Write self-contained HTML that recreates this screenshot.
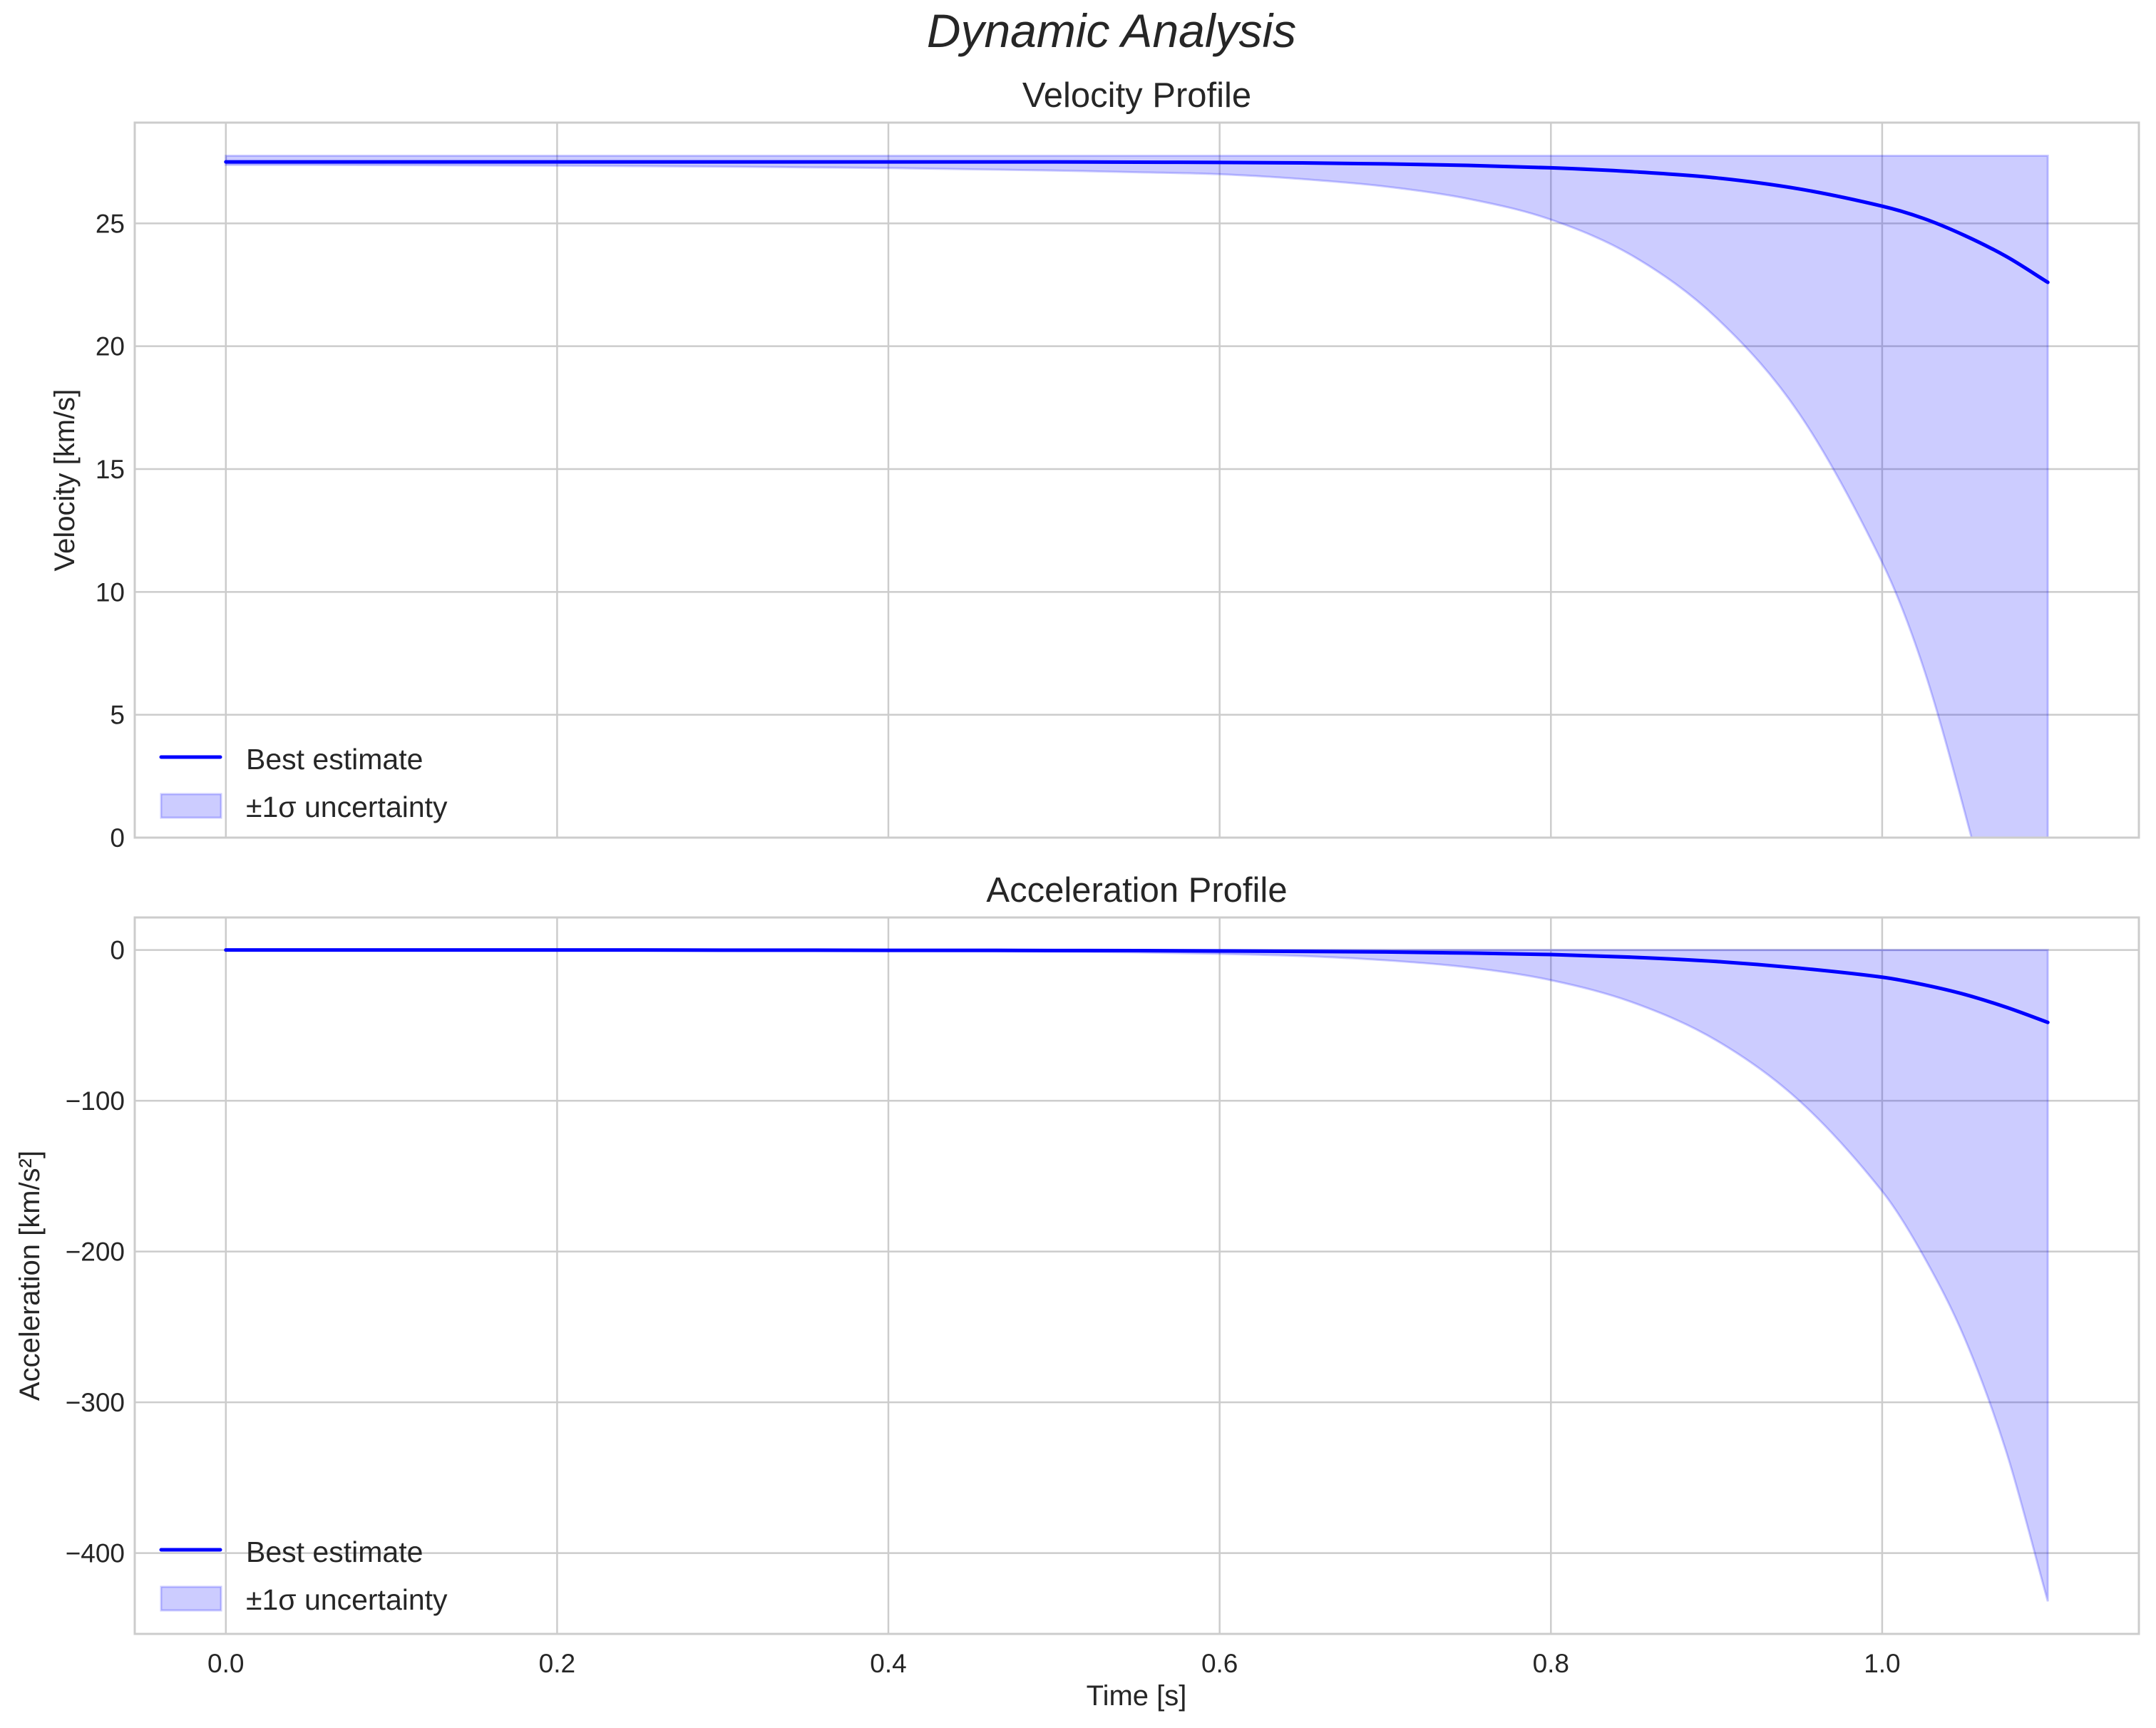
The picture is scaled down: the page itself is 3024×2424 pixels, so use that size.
<!DOCTYPE html>
<html><head><meta charset="utf-8"><style>
html,body{margin:0;padding:0;background:#fff}
svg{display:block;font-family:"Liberation Sans",sans-serif}
</style></head><body>
<svg id="chart" width="3024" height="2424" viewBox="0 0 3024 2424" xmlns="http://www.w3.org/2000/svg">
<text x="1559" y="66" font-size="66" font-style="italic" fill="#262626" text-anchor="middle">Dynamic Analysis</text>
<g id="g1"></g><g id="g2"></g>
</svg>
<script>
const times=[0,0.05,0.1,0.15,0.2,0.25,0.3,0.35,0.4,0.45,0.5,0.55,0.6,0.65,0.7,0.75,0.8,0.85,0.9,0.95,1.0,1.025,1.05,1.075,1.1];
const velMean=[27.5,27.5,27.5,27.5,27.5,27.5,27.5,27.5,27.5,27.5,27.5,27.49,27.48,27.46,27.42,27.36,27.26,27.1,26.85,26.4,25.7,25.2,24.5,23.65,22.6];
const velLower=[27.38,27.38,27.37,27.36,27.35,27.33,27.31,27.28,27.25,27.2,27.15,27.08,27.0,26.8,26.5,26.0,25.15,23.65,21.15,17.25,11.2,6.9,1.0,-5.75,-14.25];
const velUpper=[27.75,27.75,27.75,27.75,27.75,27.75,27.75,27.75,27.75,27.75,27.75,27.75,27.75,27.75,27.75,27.75,27.75,27.75,27.75,27.75,27.75,27.75,27.75,27.75,27.75];
const accMean=[0,0,0,0,0,0,-0.1,-0.1,-0.2,-0.2,-0.3,-0.4,-0.6,-0.9,-1.3,-2,-3,-4.8,-7.6,-12,-18,-23,-29.5,-38,-48];
const accLower=[0,-0.1,-0.1,-0.2,-0.2,-0.3,-0.4,-0.5,-0.6,-0.8,-1.1,-1.6,-2.5,-4,-6.8,-11.5,-20,-35,-60,-100,-160,-203,-258,-333,-432];
const accUpper=[0,0,0,0,0,0,0,0,0,0,0,0,0,0,0,0,0,0,0,0,0,0,0,0,0];
const xTicks=[0,0.2,0.4,0.6,0.8,1.0];
const xTickLabels=["0.0","0.2","0.4","0.6","0.8","1.0"];
const velTicks=[0,5,10,15,20,25];
const accTicks=[0,-100,-200,-300,-400];
const accTickLabels=["0","\u2212100","\u2212200","\u2212300","\u2212400"];

const NS="http://www.w3.org/2000/svg";
const L=189,R=3000;
const xmin=-0.055,xmax=1.155;
function X(v){return L+(v-xmin)/(xmax-xmin)*(R-L);}
function mk(p,tag,attrs){const e=document.createElementNS(NS,tag);for(const k in attrs)e.setAttribute(k,attrs[k]);p.appendChild(e);return e;}
// Hermite spline in x with finite-difference slopes (handles uneven spacing)
function smooth(pts){
  const n=pts.length,m=[];
  for(let i=0;i<n;i++){const a=pts[Math.max(0,i-1)],b=pts[Math.min(n-1,i+1)];m.push((b[1]-a[1])/(b[0]-a[0]));}
  let d='';
  for(let i=0;i<n-1;i++){const p1=pts[i],p2=pts[i+1],h=(p2[0]-p1[0])/3;
    d+='C'+(p1[0]+h)+','+(p1[1]+m[i]*h)+' '+(p2[0]-h)+','+(p2[1]-m[i+1]*h)+' '+p2[0]+','+p2[1];}
  return d;}

function panel(g,top,bot,ymin,ymax,mean,lo,hi,ticks,labels,title,ylabel,ylabX,legY,showX,clipId,pfx){
  const Y=v=>bot-(v-ymin)/(ymax-ymin)*(bot-top);
  xTicks.forEach((t,i)=>{const l=mk(g,'line',{x1:X(t),x2:X(t),y1:top,y2:bot,stroke:'#cccccc','stroke-width':2.5});
    
    
    if(showX){const tx=mk(g,'text',{x:X(t),y:2346,'font-size':37,fill:'#262626','text-anchor':'middle'});tx.textContent=xTickLabels[i];
    
    }
  });
  ticks.forEach((t,i)=>{const l=mk(g,'line',{x1:L,x2:R,y1:Y(t),y2:Y(t),stroke:'#cccccc','stroke-width':2.5});
    
    
    const tx=mk(g,'text',{x:L-14,y:Y(t)+13,'font-size':37,fill:'#262626','text-anchor':'end'});tx.textContent=labels[i];
    
    
  });
  const cp=mk(g,'clipPath',{id:clipId});mk(cp,'rect',{x:L,y:top,width:R-L,height:bot-top});
  const hp=times.map((t,i)=>[X(t),Y(hi[i])]);
  const lp=times.map((t,i)=>[X(t),Y(lo[i])]);
  // build lower edge forward then reverse path manually
  const lowFwd=smooth(lp);
  // reverse lower: rebuild with reversed points (slopes symmetric)
  const lr=lp.slice().reverse();
  const nR=lr.length,mR=[];
  for(let i=0;i<nR;i++){const a=lr[Math.max(0,i-1)],b=lr[Math.min(nR-1,i+1)];mR.push((b[1]-a[1])/(b[0]-a[0]));}
  let revD='';
  for(let i=0;i<nR-1;i++){const p1=lr[i],p2=lr[i+1],h=(p2[0]-p1[0])/3;
    revD+='C'+(p1[0]+h)+','+(p1[1]+mR[i]*h)+' '+(p2[0]-h)+','+(p2[1]-mR[i+1]*h)+' '+p2[0]+','+p2[1];}
  let d='M'+hp[0][0]+','+hp[0][1]+smooth(hp)+'L'+lr[0][0]+','+lr[0][1]+revD+'Z';
  const band=mk(g,'path',{d:d,fill:'rgba(0,0,255,0.2)',stroke:'rgba(0,0,255,0.2)','stroke-width':3,'clip-path':'url(#'+clipId+')'});
  
  
  const mp=times.map((t,i)=>[X(t),Y(mean[i])]);
  const line=mk(g,'path',{d:'M'+mp[0][0]+','+mp[0][1]+smooth(mp),fill:'none',stroke:'#0000ff','stroke-width':5,'stroke-linecap':'round','stroke-linejoin':'round','clip-path':'url(#'+clipId+')'});
  
  
  const fr=mk(g,'rect',{x:L,y:top,width:R-L,height:bot-top,fill:'none',stroke:'#cccccc','stroke-width':3});
  
  
  const tt=mk(g,'text',{x:(L+R)/2,y:top-22,'font-size':49,fill:'#262626','text-anchor':'middle'});tt.textContent=title;
  
  
  const yl=mk(g,'text',{x:ylabX,y:(top+bot)/2,'font-size':40,fill:'#262626','text-anchor':'middle',transform:'rotate(-90 '+ylabX+' '+(top+bot)/2+')'});yl.textContent=ylabel;
  
  
  const lg=mk(g,'g',{});
  
  
  mk(lg,'line',{x1:226,x2:309,y1:legY,y2:legY,stroke:'#0000ff','stroke-width':5,'stroke-linecap':'round'});
  const t1=mk(lg,'text',{x:345,y:legY+17,'font-size':41,fill:'#262626'});t1.textContent='Best estimate';
  mk(lg,'rect',{x:226,y:legY+52,width:84,height:33,fill:'rgba(0,0,255,0.2)',stroke:'rgba(0,0,255,0.2)','stroke-width':3});
  const t2=mk(lg,'text',{x:345,y:legY+84,'font-size':41,fill:'#262626'});t2.textContent='\u00b11\u03c3 uncertainty';
}
panel(document.getElementById('g1'),172,1175,0,29.1,velMean,velLower,velUpper,velTicks,velTicks.map(String),'Velocity Profile','Velocity [km/s]',104,1062,false,'c1','velocity');
panel(document.getElementById('g2'),1287,2292,-453.6,21.6,accMean,accLower,accUpper,accTicks,accTickLabels,'Acceleration Profile','Acceleration [km/s\u00b2]',55,2174,true,'c2','acceleration');
const xl=mk(document.getElementById('chart'),'text',{x:1594,y:2392,'font-size':40,fill:'#262626','text-anchor':'middle'});xl.textContent='Time [s]';


</script>
</body></html>
